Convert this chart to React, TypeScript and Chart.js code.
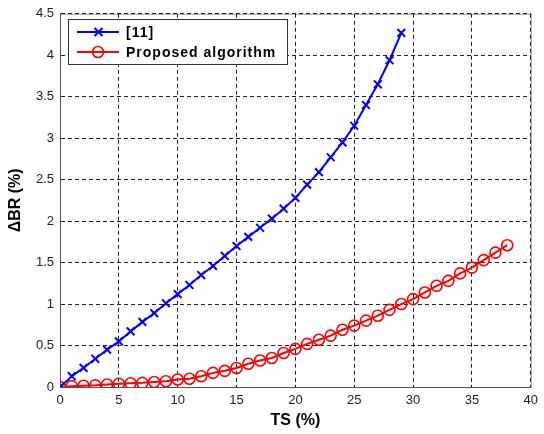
import React, { useEffect, useRef } from "react";
import { Chart, registerables } from "chart.js";

Chart.register(...registerables);

const tsBlue = [0, 1, 2, 3, 4, 5, 6, 7, 8, 9, 10, 11, 12, 13, 14, 15, 16, 17, 18, 19, 20, 21, 22, 23, 24, 25, 26, 27, 28, 29];
const brBlue = [0, 0.13, 0.23, 0.34, 0.45, 0.55, 0.67, 0.785, 0.89, 1.01, 1.12, 1.23, 1.35, 1.46, 1.58, 1.7, 1.81, 1.92, 2.03, 2.15, 2.28, 2.44, 2.59, 2.77, 2.95, 3.15, 3.4, 3.65, 3.94, 4.27];

const tsRed = [0, 1, 2, 3, 4, 5, 6, 7, 8, 9, 10, 11, 12, 13, 14, 15, 16, 17, 18, 19, 20, 21, 22, 23, 24, 25, 26, 27, 28, 29, 30, 31, 32, 33, 34, 35, 36, 37, 38];
const brRed = [0, 0.01, 0.015, 0.02, 0.03, 0.04, 0.045, 0.05, 0.06, 0.07, 0.09, 0.1, 0.13, 0.17, 0.195, 0.23, 0.28, 0.32, 0.35, 0.41, 0.46, 0.52, 0.57, 0.62, 0.69, 0.74, 0.8, 0.86, 0.93, 1.0, 1.06, 1.14, 1.22, 1.28, 1.37, 1.44, 1.53, 1.62, 1.71];

const seriesNames = ["[11]", "Proposed algorithm"];
const xTitle = "TS (%)";
const yTitle = "ΔBR (%)";

const FONT = 'Arial, "Liberation Sans", sans-serif';

const boxPlugin = {
  id: "boxPlugin",
  beforeDraw(chart: any) {
    const { ctx, chartArea: a } = chart;
    ctx.save();
    ctx.strokeStyle = "#9a9a9a";
    ctx.lineWidth = 1;
    ctx.strokeRect(a.left + 0.5, a.top + 0.5, a.right - a.left, a.bottom - a.top);
    ctx.restore();
  },
};

const legendPlugin = {
  id: "matlabLegend",
  afterDraw(chart: any) {
    const { ctx } = chart;
    const x0 = 68, y0 = 19, w = 219, h = 45;
    ctx.save();
    ctx.fillStyle = "#ffffff";
    ctx.fillRect(x0, y0, w, h);
    ctx.strokeStyle = "#333333";
    ctx.lineWidth = 1;
    ctx.strokeRect(x0 + 0.5, y0 + 0.5, w, h);
    const rows = [
      { y: 32, color: "#0000ff", style: "cross" },
      { y: 52, color: "#ff0000", style: "circle" },
    ];
    rows.forEach((r, i) => {
      ctx.strokeStyle = r.color;
      ctx.lineWidth = 2;
      ctx.beginPath();
      ctx.moveTo(77, r.y);
      ctx.lineTo(119, r.y);
      ctx.stroke();
      if (r.style === "cross") {
        ctx.beginPath();
        ctx.moveTo(94.5, r.y - 4);
        ctx.lineTo(102.5, r.y + 4);
        ctx.moveTo(102.5, r.y - 4);
        ctx.lineTo(94.5, r.y + 4);
        ctx.stroke();
      } else {
        ctx.lineWidth = 1.6;
        ctx.beginPath();
        ctx.arc(98, r.y, 5.5, 0, Math.PI * 2);
        ctx.stroke();
      }
      ctx.fillStyle = "#000000";
      ctx.font = `bold 14px ${FONT}`;
      (ctx as any).letterSpacing = "1px";
      ctx.textAlign = "left";
      ctx.textBaseline = "middle";
      ctx.fillText(seriesNames[i], 126, r.y + 1);
    });
    ctx.restore();
  },
};

export default function App() {
  const ref = useRef<HTMLCanvasElement | null>(null);

  useEffect(() => {
    if (!ref.current) return;
    const chart = new Chart(ref.current, {
      type: "line",
      data: {
        datasets: [
          {
            label: seriesNames[0],
            data: tsBlue.map((x, i) => ({ x, y: brBlue[i] })),
            borderColor: "#0000ff",
            backgroundColor: "#0000ff",
            borderWidth: 2,
            pointStyle: "crossRot",
            pointRadius: 5.5,
            pointBorderWidth: 2,
            pointBorderColor: "#0000ff",
            tension: 0,
          },
          {
            label: seriesNames[1],
            data: tsRed.map((x, i) => ({ x, y: brRed[i] })),
            borderColor: "#ff0000",
            backgroundColor: "rgba(0,0,0,0)",
            borderWidth: 2,
            pointStyle: "circle",
            pointRadius: 5.5,
            pointBorderWidth: 1.6,
            pointBorderColor: "#ff0000",
            pointBackgroundColor: "rgba(0,0,0,0)",
            tension: 0,
          },
        ],
      },
      options: {
        animation: false,
        responsive: false,
        maintainAspectRatio: false,
        layout: { padding: { top: 11, right: 6, left: 0, bottom: 0 } },
        plugins: {
          legend: { display: false },
          tooltip: { enabled: false },
        },
        scales: {
          x: {
            type: "linear",
            min: 0,
            max: 40,
            afterFit: (s: any) => {
              s.height = 47;
            },
            ticks: {
              stepSize: 5,
              padding: 6,
              color: "#222222",
              font: { family: FONT, size: 13 },
              maxRotation: 0,
            },
            grid: {
              color: "#222222",
              lineWidth: 1,
              drawTicks: false,
            },
            border: { display: true, color: "#555555", width: 1, dash: [4, 3] },
            title: {
              display: true,
              text: xTitle,
              color: "#000000",
              font: { family: FONT, size: 16, weight: "bold" },
              padding: { top: 0, bottom: 4 },
            },
          },
          y: {
            type: "linear",
            min: 0,
            max: 4.5,
            afterFit: (s: any) => {
              s.width = 60;
            },
            ticks: {
              stepSize: 0.5,
              padding: 6,
              color: "#222222",
              font: { family: FONT, size: 13 },
              callback: (v: any) => String(v),
            },
            grid: {
              color: "#222222",
              lineWidth: 1,
              drawTicks: false,
            },
            border: { display: true, color: "#555555", width: 1, dash: [4, 3] },
            title: {
              display: true,
              text: yTitle,
              color: "#000000",
              font: { family: FONT, size: 16, weight: "bold" },
              padding: { top: 6, bottom: 0 },
            },
          },
        },
      },
      plugins: [boxPlugin, legendPlugin],
    } as any);
    return () => chart.destroy();
  }, []);

  return (
    <div style={{ position: "absolute", left: 0, top: 0, width: 544, height: 434, background: "#fff" }}>
      <canvas ref={ref} width={544} height={434} style={{ width: 544, height: 434 }} />
    </div>
  );
}
